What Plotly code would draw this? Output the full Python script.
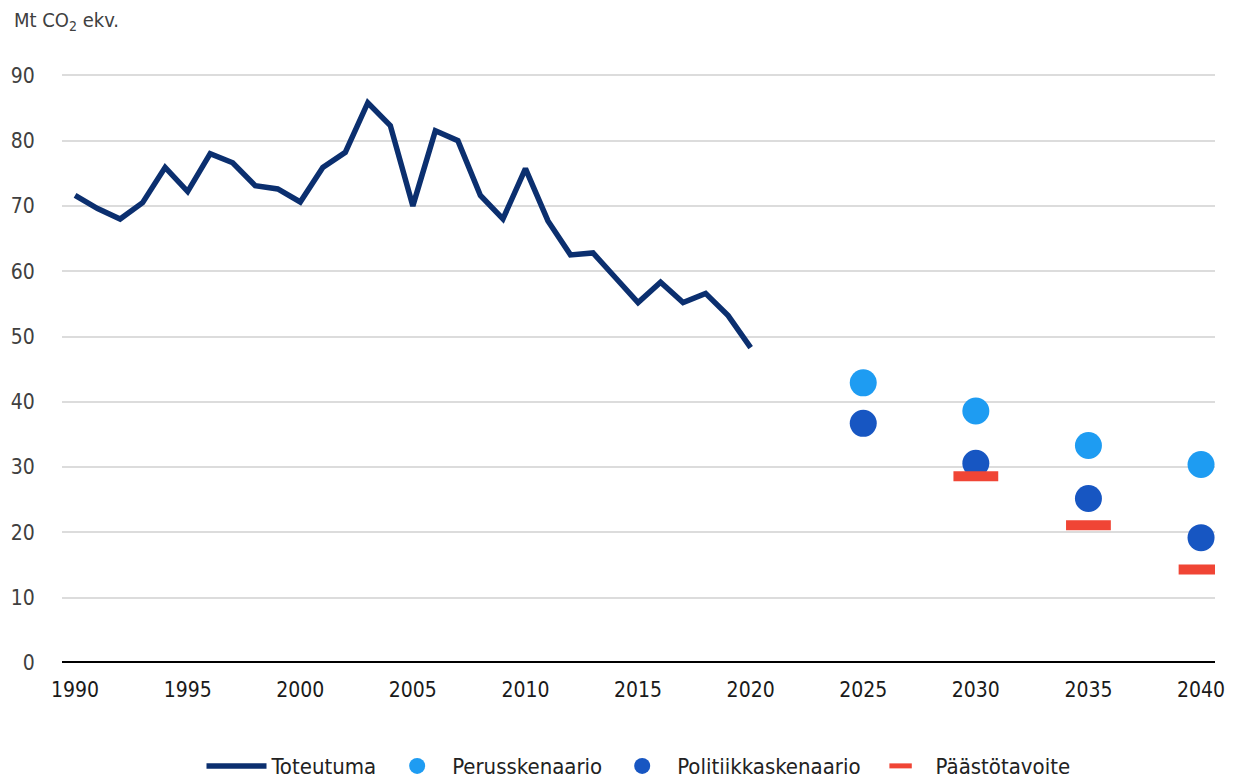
import plotly.graph_objects as go

years = list(range(1990, 2021))
toteutuma = [71.6, 69.6, 68.0, 70.5, 75.9, 72.2, 78.0, 76.6, 73.1, 72.6, 70.6,
             75.9, 78.2, 85.8, 82.3, 70.0, 81.5, 80.0, 71.6, 68.0, 75.7,
             67.7, 62.5, 62.8, 59.0, 55.2, 58.3, 55.2, 56.6, 53.2, 48.3]

scen_years = [2025, 2030, 2035, 2040]
perusskenaario = [42.9, 38.6, 33.3, 30.4]
politiikkaskenaario = [36.7, 30.6, 25.2, 19.2]

target_years = [2030, 2035, 2040]
paastotavoite = [28.6, 21.1, 14.3]

x_ticks = list(range(1990, 2041, 5))
y_ticks = list(range(0, 91, 10))

font_family = "DejaVu Sans Condensed, Liberation Sans Narrow, Roboto Condensed, Roboto, sans-serif"

fig = go.Figure()
fig.add_trace(go.Scatter(x=years, y=toteutuma, mode='lines', name='Toteutuma',
                         line=dict(color='#0b2f6f', width=5.5)))
fig.add_trace(go.Scatter(x=scen_years, y=perusskenaario, mode='markers', name='Perusskenaario',
                         marker=dict(color='#1e9cf2', size=27)))
fig.add_trace(go.Scatter(x=scen_years, y=politiikkaskenaario, mode='markers', name='Politiikkaskenaario',
                         marker=dict(color='#1756c2', size=27)))
fig.add_trace(go.Scatter(x=target_years, y=paastotavoite, mode='markers', name='Päästötavoite',
                         marker=dict(symbol='line-ew', size=32, color='#f04535',
                                     line=dict(color='#f04535', width=10))))

# thick black baseline at zero
fig.add_shape(type='line', xref='paper', yref='y', x0=0, x1=1, y0=0, y1=0,
              line=dict(color='black', width=4), layer='above')

fig.add_annotation(text='Mt CO<sub>2</sub> ekv.', xref='paper', yref='paper',
                   x=-0.0434, y=1.09, xanchor='left', yanchor='middle', showarrow=False,
                   font=dict(size=20, color='#404040', family=font_family))

fig.update_layout(
    width=1243, height=778,
    margin=dict(l=54, r=36, t=66, b=123, autoexpand=False),
    plot_bgcolor='white', paper_bgcolor='white',
    font=dict(family=font_family, size=21, color='#222'),
    showlegend=True,
    legend=dict(orientation='h', x=0.5, xanchor='center', y=-0.175, yanchor='middle',
                font=dict(size=22, color='#222'), itemwidth=60, tracegroupgap=0),
    xaxis=dict(range=[1989.42, 2040.62], tickvals=x_ticks, showgrid=False, zeroline=False,
               showline=False, ticks='outside', ticklen=8, tickcolor='rgba(0,0,0,0)',
               tickfont=dict(size=21, color='#1a1a1a')),
    yaxis=dict(range=[0, 90.2], tickvals=y_ticks, showgrid=True, gridcolor='#dcdcdc',
               gridwidth=1.5, zeroline=False, showline=False, ticks='outside', ticklen=22,
               tickcolor='rgba(0,0,0,0)', tickfont=dict(size=21, color='#404040')),
)

fig.write_html("out.html")
